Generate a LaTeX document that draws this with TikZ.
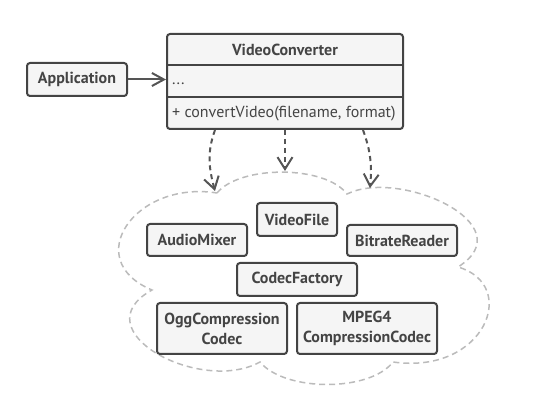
\documentclass[tikz,border=0pt]{standalone}
\usepackage{fontspec}
\setmainfont{PT Sans}
\usetikzlibrary{arrows.meta,calc}
\definecolor{boxfill}{HTML}{F5F5F5}
\definecolor{boxline}{HTML}{444444}
\definecolor{arr}{HTML}{555555}
\definecolor{cloudc}{HTML}{BBBBBB}
\begin{document}
\begin{tikzpicture}[x=1pt,y=1pt,
  box/.style={draw=boxline, fill=boxfill, line width=2pt, rounded corners=3pt, inner sep=0pt, font=\fontsize{16}{20}\selectfont\bfseries, align=center},
  txt/.style={inner sep=0pt, font=\fontsize{16}{20}\selectfont, anchor=west, text=boxline},
  dep/.style={draw=arr, line width=2pt, dash pattern=on 5pt off 4pt, -{Straight Barb[length=12pt,width=15pt]}},
  assoc/.style={draw=arr, line width=2pt, -{Straight Barb[length=12pt,width=13pt]}},
  cloudline/.style={draw=cloudc, line width=1.5pt, dash pattern=on 6pt off 4pt}]
\useasboundingbox (0,0) rectangle (558,-403);
% cloud
\coordinate (c1) at (217,-193);
\coordinate (c2) at (347,-194);
\coordinate (c3) at (458,-267);
\coordinate (c4) at (393,-362);
\coordinate (c5) at (260,-362);
\coordinate (c6) at (152,-290);
\draw[cloudline] (c1) .. controls (240,-165) and (325,-165) .. (c2)
  .. controls (400,-168) and (525,-225) .. (c3)
  .. controls (520,-285) and (485,-375) .. (c4)
  .. controls (370,-392) and (285,-392) .. (c5)
  .. controls (200,-395) and (80,-330) .. (c6)
  .. controls (80,-260) and (135,-180) .. (c1);
% boxes
\node[box, minimum width=236pt, minimum height=95pt] (vc) at (285,-81.5) {};
\node[inner sep=0pt, font=\fontsize{16}{20}\selectfont\bfseries, text=boxline] (vctitle) at (285,-50) {VideoConverter};
\draw[draw=boxline, line width=2pt] ($(vc.north west)+(0,-32)$) -- ($(vc.north east)+(0,-32)$);
\draw[draw=boxline, line width=2pt] ($(vc.north west)+(0,-64)$) -- ($(vc.north east)+(0,-64)$);
\node[txt] (vcattr) at (172,-84) {...};
\node[txt] (vcmeth) at (172,-114) {+ convertVideo(filename, format)};
\node[box, text=boxline, minimum width=100pt, minimum height=33pt] (app) at (77,-79.5) {Application};
\node[box, text=boxline, minimum width=80pt, minimum height=33pt] (vf) at (297,-219.5) {VideoFile};
\node[box, text=boxline, minimum width=100pt, minimum height=32pt] (am) at (197,-240) {AudioMixer};
\node[box, text=boxline, minimum width=110pt, minimum height=31pt] (br) at (402,-240.5) {BitrateReader};
\node[box, text=boxline, minimum width=120pt, minimum height=33pt] (cf) at (297,-279.5) {CodecFactory};
\node[box, text=boxline, minimum width=130pt, minimum height=51pt] (ogg) at (222,-328.5) {OggCompression\\Codec};
\node[box, text=boxline, minimum width=140pt, minimum height=51pt] (mpeg) at (367,-328.5) {MPEG4\\CompressionCodec};
% connectors
\draw[assoc] (app.east) -- (app.east -| vc.west);
\coordinate (t1) at (215,-191);
\coordinate (t2) at (285,-171);
\coordinate (t3) at (370,-188);
\draw[dep] ([xshift=-70pt]vc.south) to[out=-110,in=105] (t1);
\draw[dep] (vc.south) -- (t2);
\draw[dep] ([xshift=78pt]vc.south) to[out=-70,in=85] (t3);
\end{tikzpicture}
\end{document}
